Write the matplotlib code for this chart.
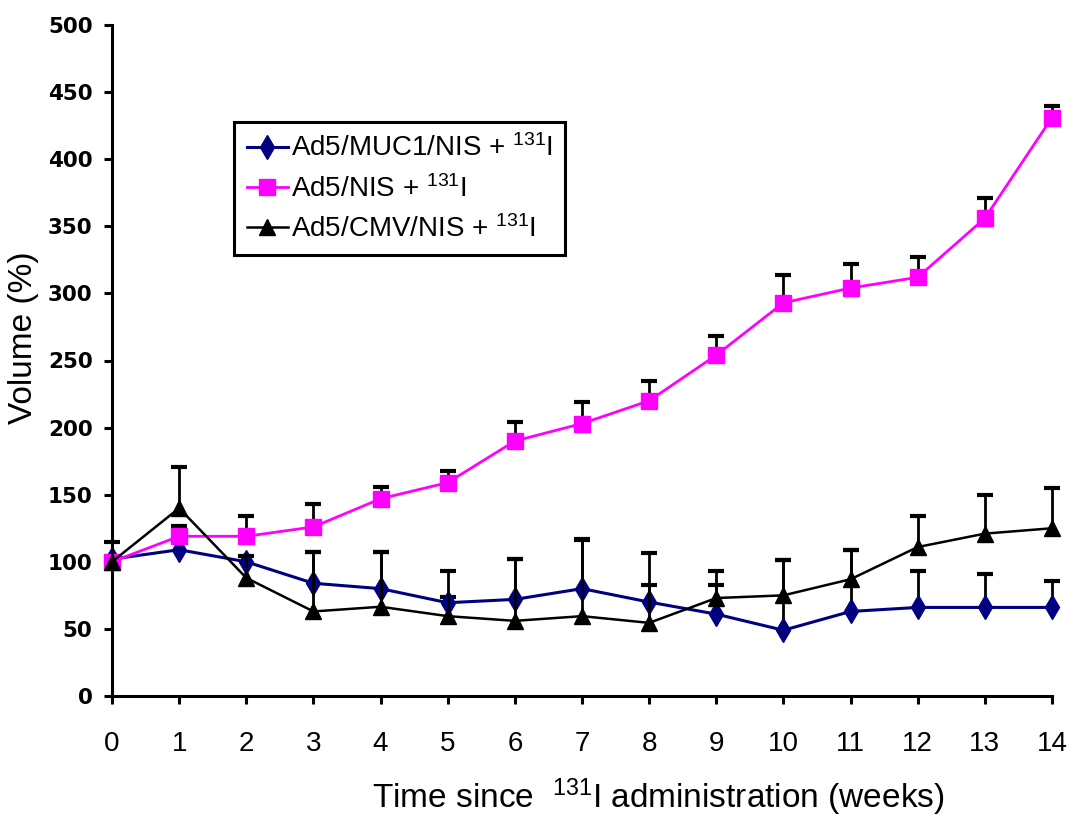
import matplotlib
matplotlib.use("Agg")
import matplotlib.pyplot as plt
from matplotlib import font_manager as fm
import numpy as np

# ---- data ----
weeks = list(range(15))
muc1 = [102, 109, 100, 84, 80, 69.5, 72, 80, 70, 61, 49, 63, 66, 66, 66]
muc1_err = [0, 0, 0, 23, 27, 4, 30, 37, 13, 22, 52, 46, 27, 25, 20]
nis = [100, 119, 119, 126, 147, 159, 190, 203, 220, 254, 293, 304, 312, 356, 431]
nis_err = [0, 8, 15, 17, 9, 9, 14, 16, 15, 14, 21, 18, 15, 15, 9]
cmv = [100, 140, 88, 63, 66.5, 59.5, 56, 59.5, 54.5, 73, 75, 87, 111, 121, 125]
cmv_err = [15, 31, 16, 44, 41, 34, 46, 57, 52, 20, 26, 22, 23, 29, 30]

labels = [r"Ad5/MUC1/NIS + $^{131}$I", r"Ad5/NIS + $^{131}$I", r"Ad5/CMV/NIS + $^{131}$I"]
yticks = [0, 50, 100, 150, 200, 250, 300, 350, 400, 450, 500]

avail = {f.name for f in fm.fontManager.ttflist}
narrow = "Liberation Sans Narrow" if "Liberation Sans Narrow" in avail else "Liberation Sans"

plt.rcParams["mathtext.fontset"] = "custom"
plt.rcParams["mathtext.rm"] = "Liberation Sans"
plt.rcParams["mathtext.it"] = "Liberation Sans:italic"
plt.rcParams["mathtext.bf"] = "Liberation Sans:bold"
plt.rcParams["font.family"] = ["Liberation Sans", "DejaVu Sans"]

fig = plt.figure(figsize=(10.75, 8.17), dpi=100)
ax = fig.add_axes([112/1075, 1-696/817, 940/1075, 671/817])

x = np.array(weeks)

def draw(yv, err, color, marker, ms, lw, z):
    yv = np.array(yv); err = np.array(err)
    ln, = ax.plot(x, yv, color=color, lw=lw, marker=marker, ms=ms, mfc=color, mec=color, zorder=z, clip_on=False)
    m = err > 0
    ax.vlines(x[m], yv[m], yv[m] + err[m], color="black", lw=2.0, zorder=z - 0.5, clip_on=False)
    ax.plot(x[m], yv[m] + err[m], ls="none", marker="_", ms=11, mew=3, color="black", zorder=z - 0.5, clip_on=False)
    return ln

h1 = draw(muc1, muc1_err, "#000080", "d", 12, 2.2, 3)
h2 = draw(nis, nis_err, "#FF00FF", "s", 11, 2.0, 4)
h3 = draw(cmv, cmv_err, "black", "^", 12, 1.8, 5)

ax.set_xlim(0, 14)
ax.set_ylim(0, 500)
ax.set_xticks(weeks)
ax.set_yticks(yticks)
ax.set_xticklabels([str(w) for w in weeks], fontfamily=narrow, fontsize=20)
ax.set_yticklabels([str(v) for v in yticks], fontfamily="DejaVu Sans", fontweight="bold", fontsize=15.5)
ax.tick_params(axis="x", direction="out", length=6, width=2.2, pad=19)
ax.tick_params(axis="y", direction="out", length=6, width=2.2, pad=8)
for s in ["top", "right"]:
    ax.spines[s].set_visible(False)
for s in ["left", "bottom"]:
    ax.spines[s].set_linewidth(2.2)

ax.set_ylabel("Volume (%)", fontsize=24)
ax.yaxis.set_label_coords(-0.078, (696-338)/671)
fig.text(658/1075, 1-808/817, r"Time since  $^{131}$I administration (weeks)", ha="center", va="baseline", fontsize=24)

leg = ax.legend([h1, h2, h3], labels, loc="upper left", bbox_to_anchor=((234-112)/940, (696-122)/671), borderaxespad=0,
                fontsize=20, frameon=True, fancybox=False, framealpha=1, edgecolor="black",
                handlelength=1.5, handletextpad=0.1, labelspacing=0.45, borderpad=0.45, numpoints=1)
leg.get_frame().set_linewidth(2.2)

fig.savefig("out.png", dpi=100)
